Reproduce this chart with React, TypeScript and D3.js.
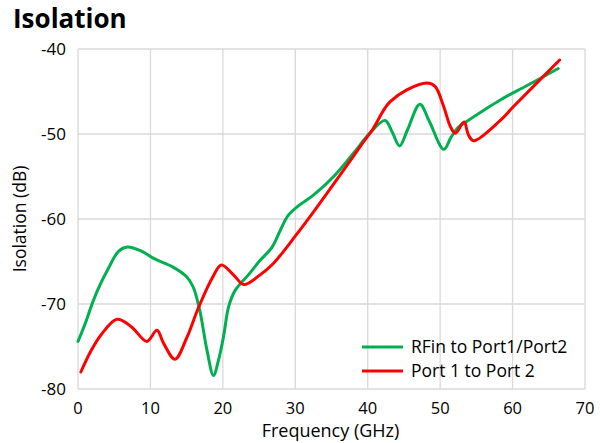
import React from "react";
import * as d3 from "d3";

const title = "Isolation";
const xLabel = "Frequency (GHz)";
const yLabel = "Isolation (dB)";
const xTicks = [0, 10, 20, 30, 40, 50, 60, 70];
const yTicks = [-40, -50, -60, -70, -80];

const seriesNames = ["RFin to Port1/Port2", "Port 1 to Port 2"];
const seriesColors = ["#00B050", "#FF0000"];

const greenFreq = [0, 1, 1.9, 2.8, 4.2, 5.6, 6.8, 8.8, 10.6, 13, 15, 15.9, 16.8, 17.8, 18.7, 19.4, 20.1, 20.8, 21.7, 23.7, 25, 26.8, 28, 29, 30.5, 32.5, 35.3, 38, 40.3, 42.4, 43.4, 44.4, 45.5, 47.2, 48.5, 50.5, 51.5, 52.5, 53.7, 58.3, 62, 66.3];
const greenVals = [-74.4, -72.3, -70.1, -68.2, -65.8, -63.8, -63.3, -63.8, -64.7, -65.6, -66.8, -68.0, -70.7, -75.4, -78.4, -76.6, -73.8, -70.3, -68.4, -66.4, -65.0, -63.3, -61.2, -59.6, -58.4, -57.2, -55.0, -52.3, -49.9, -48.4, -49.8, -51.4, -49.5, -46.5, -48.5, -51.8, -50.4, -49.2, -48.5, -46.0, -44.3, -42.3];

const redFreq = [0.4, 1.8, 3.3, 5.4, 7.4, 9.5, 10.9, 11.8, 13.4, 15, 16.6, 18.5, 19.8, 21.5, 22.9, 25.1, 27, 30.1, 33, 36.2, 39.2, 40.8, 42.2, 43.1, 45.4, 48.2, 49.3, 50.5, 51.4, 52.1, 53.3, 53.9, 54.6, 58.3, 60.1, 66.5];
const redVals = [-78.0, -75.5, -73.5, -71.8, -72.7, -74.4, -73.1, -74.6, -76.5, -74.0, -70.5, -67.0, -65.4, -66.6, -67.7, -66.6, -65.2, -61.9, -58.6, -54.8, -51.2, -49.3, -47.2, -46.2, -44.8, -44.0, -44.4, -46.8, -49.1, -49.9, -48.6, -50.1, -50.8, -48.4, -46.8, -41.3];

const W = 600;
const H = 443;
const left = 78;
const right = 585;
const top = 49;
const bottom = 389;
const font = "'Open Sans', 'Liberation Sans', sans-serif";

export default function App() {
  const x = d3.scaleLinear().domain([0, 70]).range([left, right]);
  const y = d3.scaleLinear().domain([-80, -40]).range([bottom, top]);
  const line = d3
    .line<[number, number]>()
    .x((d) => x(d[0]))
    .y((d) => y(d[1]))
    .curve(d3.curveCatmullRom.alpha(0.5));

  const green = greenFreq.map((f, i) => [f, greenVals[i]] as [number, number]);
  const red = redFreq.map((f, i) => [f, redVals[i]] as [number, number]);

  const legendY = [347, 371];

  return (
    <svg
      width={W}
      height={H}
      style={{ position: "absolute", left: 0, top: 0, background: "#fff" }}
      fontFamily={font}
    >
      <rect x={0} y={0} width={W} height={H} fill="#fff" />
      <text x={13} y={28} fontSize={26} fontWeight="bold" fill="#000">
        {title}
      </text>
      {xTicks.map((t) => (
        <line key={"vx" + t} x1={x(t)} x2={x(t)} y1={top} y2={bottom} stroke="#d9d9d9" strokeWidth={1.3} />
      ))}
      {yTicks.map((t) => (
        <line key={"hy" + t} x1={left} x2={right} y1={y(t)} y2={y(t)} stroke="#d9d9d9" strokeWidth={1.3} />
      ))}
      {yTicks.map((t) => (
        <text key={"yl" + t} x={66} y={y(t)} dy="0.36em" textAnchor="end" fontSize={17} fill="#000">
          {t}
        </text>
      ))}
      {xTicks.map((t) => (
        <text key={"xl" + t} x={x(t)} y={413.5} textAnchor="middle" fontSize={16.5} fill="#000">
          {t}
        </text>
      ))}
      <text x={(left + right) / 2 - 1} y={437} textAnchor="middle" fontSize={18} fill="#000">
        {xLabel}
      </text>
      <text
        transform={`translate(26, ${(top + bottom) / 2}) rotate(-90)`}
        textAnchor="middle"
        fontSize={17.5}
        fill="#000"
      >
        {yLabel}
      </text>
      <path d={line(green) || ""} fill="none" stroke={seriesColors[0]} strokeWidth={3} strokeLinecap="round" />
      <path d={line(red) || ""} fill="none" stroke={seriesColors[1]} strokeWidth={3} strokeLinecap="round" />
      {seriesNames.map((n, i) => (
        <g key={n}>
          <line x1={362} x2={403} y1={legendY[i]} y2={legendY[i]} stroke={seriesColors[i]} strokeWidth={3} />
          <text x={411} y={legendY[i]} dy="0.36em" fontSize={17.5} fill="#000">
            {n}
          </text>
        </g>
      ))}
    </svg>
  );
}
